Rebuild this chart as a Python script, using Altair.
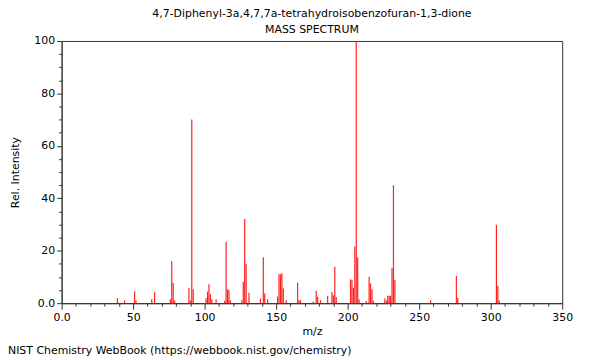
import altair as alt
import pandas as pd

# m/z values and relative intensities
mz = [39, 44, 51, 52, 63, 65, 76, 77, 78, 79, 89, 90, 91, 92,
      101, 102, 103, 104, 105, 108, 114, 115, 116, 117, 118,
      126, 127, 128, 129, 131, 139, 141, 142, 144,
      151, 152, 153, 154, 155, 157, 165, 166, 167,
      176, 178, 179, 181, 186, 189, 190, 191, 192,
      202, 203, 204, 205, 206, 207, 208, 213, 215, 216, 217, 218,
      226, 227, 228, 229, 230, 231, 232, 233, 258, 276, 277, 304, 305, 306]
intensity = [1.9, 1.1, 4.5, 1.1, 1.5, 4.2, 1.5, 16.0, 7.7, 1.0, 5.9, 1.0, 70.1, 5.3,
             1.9, 4.4, 7.2, 3.4, 1.5, 1.5, 0.9, 23.4, 5.3, 4.9, 1.1,
             1.1, 8.2, 32.1, 15.0, 4.0, 1.8, 17.5, 3.7, 1.5,
             2.5, 11.0, 11.0, 11.4, 5.6, 1.1, 7.8, 1.1, 1.1,
             0.6, 4.7, 2.5, 1.1, 2.8, 4.3, 3.0, 13.9, 2.4,
             9.1, 8.8, 5.9, 21.7, 100.0, 17.4, 1.5, 0.8, 10.1, 7.5, 5.3, 0.9,
             1.8, 0.9, 2.8, 2.8, 2.8, 13.3, 45.0, 8.8, 1.1, 10.4, 2.1, 29.9, 6.6, 1.0]

x_ticks = list(range(0, 351, 10))
y_ticks = list(range(0, 101, 5))

title_text = "4,7-Diphenyl-3a,4,7,7a-tetrahydroisobenzofuran-1,3-dione"
subtitle_text = "MASS SPECTRUM"
footer_text = "NIST Chemistry WebBook (https://webbook.nist.gov/chemistry)"

df = pd.DataFrame({"mz": mz, "intensity": intensity})

W, H = 504, 264
FONT = "DejaVu Sans"

bars = alt.Chart(df).mark_rule(color="#ff2020", strokeWidth=1.2).encode(
    x=alt.X(
        "mz:Q",
        scale=alt.Scale(domain=[0, 350], nice=False, zero=False, padding=0),
        axis=alt.Axis(
            values=x_ticks,
            title="m/z",
            labelExpr="datum.value == 0 ? '0.0' : (datum.value % 50 == 0 ? datum.label : '')",
            tickSize={"condition": {"test": "datum.value % 50 === 0", "value": 6}, "value": 3},
            labelPadding=2,
            labelFlush=False,
            titlePadding=4,
            grid=False,
        ),
    ),
    y=alt.Y(
        "intensity:Q",
        scale=alt.Scale(domain=[0, 100], nice=False, padding=0),
        axis=alt.Axis(
            values=y_ticks,
            title="Rel. Intensity",
            labelExpr="datum.value == 0 ? '0.0' : (datum.value % 20 == 0 ? datum.label : '')",
            tickSize={"condition": {"test": "datum.value % 20 === 0", "value": 5}, "value": 3},
            labelPadding=2,
            labelFlush=False,
            titlePadding=13,
            grid=False,
        ),
    ),
    y2=alt.datum(0),
)

footer = alt.Chart(pd.DataFrame({"t": [footer_text]})).mark_text(
    align="left", baseline="alphabetic", font=FONT, fontSize=11, color="black"
).encode(
    text="t:N",
    x=alt.value(-54),
    y=alt.value(H + 51),
)

chart = alt.layer(bars, footer).properties(
    width=W,
    height=H,
    autosize=alt.AutoSizeParams(type="none"),
    padding={"left": 54, "top": 32, "right": 30, "bottom": 55},
    title=alt.TitleParams(
        text=title_text,
        subtitle=subtitle_text,
        anchor="middle",
        font=FONT,
        subtitleFont=FONT,
        fontSize=11,
        subtitleFontSize=11,
        fontWeight="normal",
        color="black",
        subtitleColor="black",
        subtitlePadding=5,
        offset=0,
    ),
).configure_view(
    stroke="#333333", strokeWidth=1
).configure_axis(
    labelFont=FONT,
    titleFont=FONT,
    labelFontSize=11,
    titleFontSize=11,
    titleFontWeight="normal",
    labelColor="black",
    titleColor="black",
    domainColor="#333333",
    tickColor="#333333",
)

chart.save("out.html", embed_options={"renderer": "svg", "actions": False})
